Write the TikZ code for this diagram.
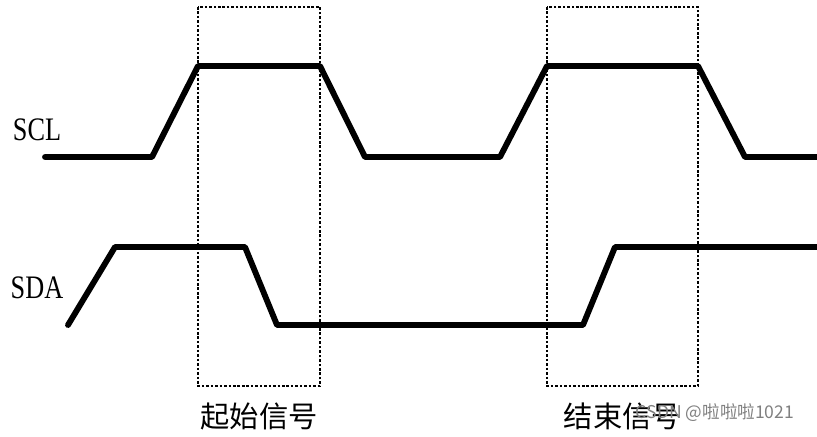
\documentclass[tikz,border=0pt]{standalone}
\usepackage{fontspec}
\setmainfont{Liberation Serif}
\newfontfamily\cjkfont{Noto Sans CJK SC}
\begin{document}
\begin{tikzpicture}[x=0.03cm, y=-0.03cm,
  wave/.style={line width=5pt, line join=round, line cap=round},
  window/.style={dash pattern=on 2.2pt off 1.6pt, line width=1.4pt},
  signame/.style={font=\fontsize{28}{30}\selectfont, xscale=.8, inner sep=0pt},
  caption/.style={font=\cjkfont\fontsize{25}{28}\selectfont, inner sep=0pt}]
\useasboundingbox (0,0) rectangle (817,436);

% clock and data lines
\draw[wave] (45,157) -- (152,157) -- (198,66) -- (320,66) -- (365,157) -- (500,157) -- (547,66) -- (698,66) -- (745,157) -- (830,157);
\draw[wave] (68,325) -- (115,247) -- (245,247) -- (277,325) -- (583,325) -- (615,247) -- (830,247);

\node[signame] (scl) at (37,130) {SCL};
\node[signame] (sda) at (37,288) {SDA};

% start and stop windows
\foreach \xa/\xb/\name/\txt in {198/320/start/起始信号, 547/698/stop/结束信号} {
  \draw[window] (\xa,7) rectangle (\xb,386);
  \node[caption] (\name) at ({(\xa+\xb)/2},416) {\txt};
}

\node[font=\cjkfont\fontsize{15}{17}\selectfont, text=black!50, inner sep=0pt] (mark) at (715,413) {CSDN @啦啦啦1021};
\end{tikzpicture}
\end{document}
